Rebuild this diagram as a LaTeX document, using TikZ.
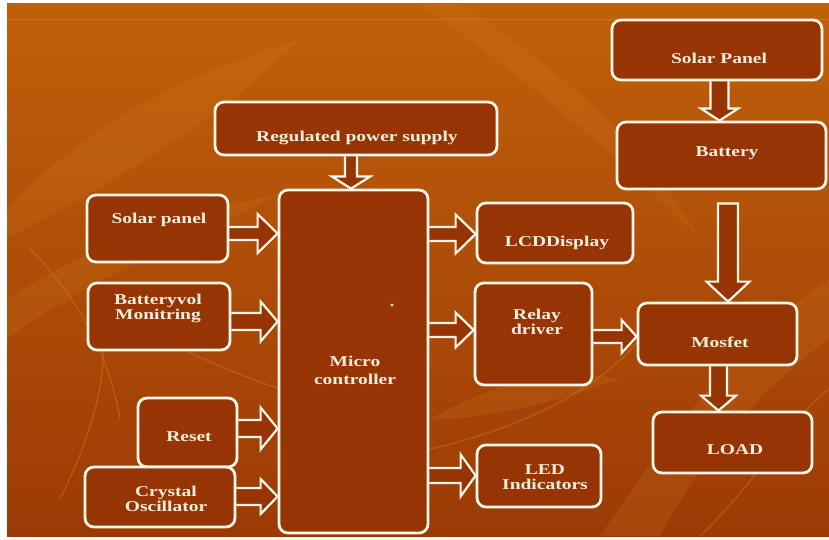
\documentclass[tikz,border=0pt]{standalone}
\usepackage{fontspec}
\newfontfamily\lab{Liberation Serif}[FakeStretch=1.3]
\usetikzlibrary{calc}
\definecolor{bgtop}{RGB}{192,96,10}
\definecolor{bgbot}{RGB}{156,58,6}
\definecolor{boxfill}{RGB}{150,52,4}
\definecolor{edge}{RGB}{255,247,232}
\definecolor{txtc}{RGB}{248,238,222}
\definecolor{leaf}{RGB}{215,130,40}
\pgfdeclarelayer{back}
\pgfdeclarelayer{mid}
\pgfsetlayers{back,mid,main}
\tikzset{
 box/.style={draw=edge, line width=2.8pt, fill=boxfill, rounded corners=9pt, inner sep=0pt},
 txt/.style={text=txtc, font=\lab\bfseries\fontsize{15}{15}\selectfont, align=center, inner sep=0pt},
 arr/.style={draw=edge, line width=2.2pt, fill=boxfill, line join=miter},
}
% horizontal block arrow: src, tgt, y, shaft half, head half, head length
\newcommand\harr[6]{\path[arr] let \p1=(#1.east), \p2=(#2.west) in
 (\x1,#3pt+#4pt) -- (\x2-#6pt,#3pt+#4pt) -- (\x2-#6pt,#3pt+#5pt) -- (\x2,#3pt)
 -- (\x2-#6pt,#3pt-#5pt) -- (\x2-#6pt,#3pt-#4pt) -- (\x1,#3pt-#4pt);}
% vertical block arrow: src, tgt, x, shaft half, head half, head length
\newcommand\varr[6]{\path[arr] let \p1=(#1.south), \p2=(#2.north) in
 (#3pt-#4pt,\y1) -- (#3pt-#4pt,\y2+#6pt) -- (#3pt-#5pt,\y2+#6pt) -- (#3pt,\y2)
 -- (#3pt+#5pt,\y2+#6pt) -- (#3pt+#4pt,\y2+#6pt) -- (#3pt+#4pt,\y1);}
% closed vertical block arrow with a gap below the source
\newcommand\varrc[7]{\path[arr] let \p1=(#1.south), \p2=(#2.north) in
 (#3pt-#4pt,\y1-#7pt) -- (#3pt-#4pt,\y2+#6pt) -- (#3pt-#5pt,\y2+#6pt) -- (#3pt,\y2)
 -- (#3pt+#5pt,\y2+#6pt) -- (#3pt+#4pt,\y2+#6pt) -- (#3pt+#4pt,\y1-#7pt) -- cycle;}
\begin{document}
\begin{tikzpicture}[x=1pt,y=1pt]
\useasboundingbox (0,0) rectangle (829,539);
\begin{pgfonlayer}{back}
\fill[white] (0,0) rectangle (829,539);
\shade[top color=bgtop, bottom color=bgbot] (7,3) rectangle (829,535);
% faint leaf texture
\begin{scope}[opacity=0.18]
\fill[leaf] (7,330) .. controls (90,420) and (200,470) .. (300,500) .. controls (220,420) and (120,360) .. (7,300) -- cycle;
\fill[leaf] (7,240) .. controls (100,300) and (200,330) .. (280,345) .. controls (190,300) and (90,260) .. (7,200) -- cycle;
\fill[leaf] (460,535) .. controls (560,470) and (640,400) .. (700,300) .. controls (620,380) and (540,450) .. (420,535) -- cycle;
\fill[leaf] (600,3) .. controls (680,120) and (740,200) .. (829,260) -- (829,200) .. controls (760,150) and (700,80) .. (660,3) -- cycle;
\fill[leaf] (430,120) .. controls (500,160) and (560,170) .. (620,160) .. controls (560,140) and (500,120) .. (430,120) -- cycle;
\end{scope}
\begin{scope}[opacity=0.35, draw=leaf, line width=1.5pt]
\draw (30,290) .. controls (80,240) and (110,180) .. (120,120);
\draw (100,230) .. controls (160,200) and (220,170) .. (280,150);
\draw (60,40) .. controls (100,120) and (110,180) .. (100,230);
\draw (430,90) .. controls (520,110) and (600,150) .. (640,200);
\draw (700,3) .. controls (760,60) and (790,120) .. (829,150);
\end{scope}
\draw[leaf, opacity=0.5, line width=1pt] (7,519) -- (829,519);
\end{pgfonlayer}

% boxes
\node[box, minimum width=282pt, minimum height=53pt] (reg) at (356,410.5) {};
\node[box, minimum width=210pt, minimum height=60pt] (solarR) at (717,489) {};
\node[box, minimum width=209pt, minimum height=67pt] (battery) at (721.5,383.5) {};
\node[box, minimum width=141pt, minimum height=67pt] (solarL) at (157.5,310.5) {};
\node[box, minimum width=142pt, minimum height=67pt] (battmon) at (159,222.5) {};
\node[box, minimum width=99pt, minimum height=69pt] (reset) at (187.5,106.5) {};
\node[box, minimum width=150pt, minimum height=60pt] (crystal) at (160,42) {};
\node[box, minimum width=149pt, minimum height=343pt] (micro) at (353.5,177.5) {};
\node[box, minimum width=156pt, minimum height=60pt] (lcd) at (555,306) {};
\node[box, minimum width=117pt, minimum height=102pt] (relay) at (533.5,205) {};
\node[box, minimum width=159pt, minimum height=62pt] (mosfet) at (717.5,205) {};
\node[box, minimum width=159pt, minimum height=61pt] (load) at (732.5,96.5) {};
\node[box, minimum width=124pt, minimum height=62pt] (led) at (539,63) {};

% labels
\node[txt] (regt) at (357,401) {Regulated power supply};
\node[txt] (solarRt) at (719,481) {Solar Panel};
\node[txt] (batteryt) at (727,386) {Battery};
\node[txt] (solarLt) at (159,319) {Solar panel};
\node[txt] (battmont) at (158,231) {Batteryvol\\Monitring};
\node[txt] (resett) at (189,102) {Reset};
\node[txt] (crystalt) at (166,40) {Crystal\\Oscillator};
\node[txt, font={\lab\bfseries\fontsize{15}{18}\selectfont}] (microt) at (355,169) {Micro\\controller};
\node[txt] (lcdt) at (557,296) {LCDDisplay};
\node[txt] (relayt) at (537,217) {Relay\\driver};
\node[txt] (mosfett) at (720,197) {Mosfet};
\node[txt] (loadt) at (735,89) {LOAD};
\node[txt] (ledt) at (545,62) {LED\\Indicators};
\fill[txtc] (392,234) circle (1.6pt);

% block arrows
\begin{pgfonlayer}{mid}
\harr{solarL}{micro}{305.5}{6.5}{19.5}{20}
\harr{battmon}{micro}{217.5}{8.5}{20}{17}
\harr{reset}{micro}{110.5}{8.5}{21}{17}
\harr{crystal}{micro}{42.5}{8.5}{17.5}{17}
\harr{micro}{lcd}{305}{7}{19.5}{20}
\harr{micro}{relay}{209}{7}{17.5}{18}
\harr{relay}{mosfet}{202.5}{6.5}{16.5}{15}
\harr{micro}{led}{63.5}{7.5}{21}{15}
\varr{reg}{micro}{351}{6}{19}{12}
\varr{solarR}{battery}{719.5}{9}{18.5}{12}
\varrc{battery}{mosfet}{728}{10}{21.5}{20}{13}
\varr{mosfet}{load}{718.5}{8.5}{17.5}{15}
\end{pgfonlayer}
\end{tikzpicture}
\end{document}
